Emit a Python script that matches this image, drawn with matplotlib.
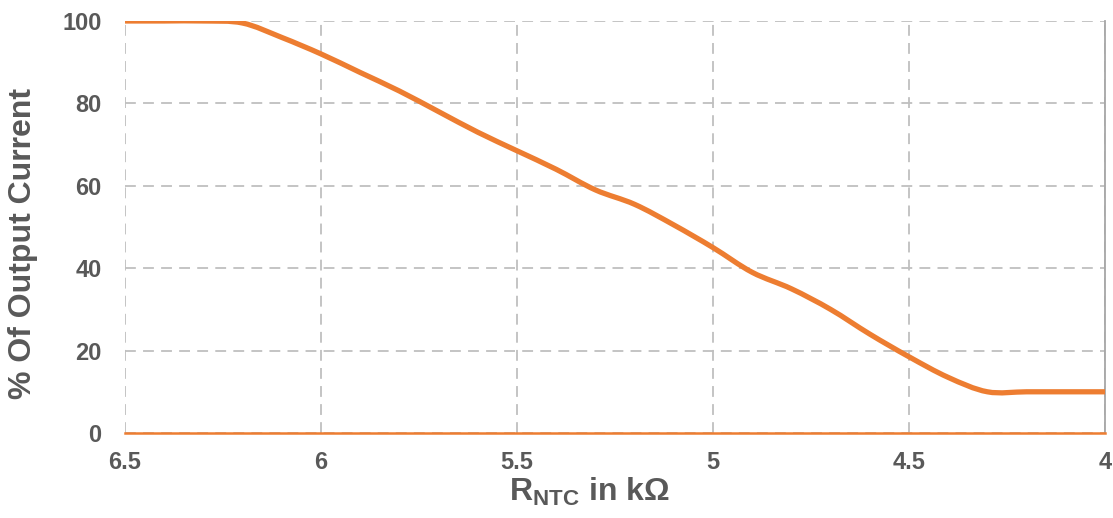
import matplotlib
matplotlib.use("Agg")
import matplotlib.pyplot as plt
from matplotlib.path import Path
from matplotlib.patches import PathPatch

plt.rcParams['font.family'] = ['Liberation Sans', 'DejaVu Sans']
plt.rcParams['mathtext.fontset'] = 'custom'
plt.rcParams['mathtext.rm'] = 'Liberation Sans'
plt.rcParams['mathtext.bf'] = 'Liberation Sans:bold'

# 読み取った値 (R_NTC [kΩ], 出力電流 [%])
r_ntc = [6.5, 6.4, 6.3, 6.2, 6.1, 6.0, 5.9, 5.8, 5.7, 5.6, 5.5, 5.4, 5.3,
         5.2, 5.1, 5.0, 4.9, 4.8, 4.7, 4.6, 4.5, 4.4, 4.3, 4.2, 4.1, 4.0]
output_pct = [100, 100, 100, 99.5, 96, 92, 87.5, 83, 78, 73, 68.5, 64, 59,
              55.5, 50.5, 45, 39, 35, 30, 24, 18.5, 13.5, 10, 10, 10, 10]

x_ticks = [6.5, 6, 5.5, 5, 4.5, 4]
x_labels = ['6.5', '6', '5.5', '5', '4.5', '4']
y_ticks = [0, 20, 40, 60, 80, 100]

text_col = '#595959'
grid_col = '#BFBFBF'
orange = '#ED7D31'


def smooth_path(xs, ys, t=1 / 6):
    """Excel風の平滑線 (Catmull-Rom → ベジェ)"""
    pts = list(zip(xs, ys))
    verts = [pts[0]]
    codes = [Path.MOVETO]
    n = len(pts)
    for i in range(n - 1):
        p0 = pts[i - 1] if i > 0 else pts[i]
        p1 = pts[i]
        p2 = pts[i + 1]
        p3 = pts[i + 2] if i + 2 < n else pts[i + 1]
        c1 = (p1[0] + (p2[0] - p0[0]) * t, p1[1] + (p2[1] - p0[1]) * t)
        c2 = (p2[0] - (p3[0] - p1[0]) * t, p2[1] - (p3[1] - p1[1]) * t)
        verts += [c1, c2, p2]
        codes += [Path.CURVE4] * 3
    return Path(verts, codes)


fig = plt.figure(figsize=(11.13, 5.18), dpi=100)
ax = fig.add_axes([0.1123, 0.1641, 0.8805, 0.7954])

ax.add_patch(PathPatch(smooth_path(r_ntc, output_pct), facecolor='none',
                       edgecolor=orange, lw=3.8, joinstyle='round',
                       capstyle='butt', zorder=3))

ax.set_xlim(6.5, 4.0)
ax.set_ylim(0, 100)
ax.set_xticks(x_ticks)
ax.set_xticklabels(x_labels)
ax.set_yticks(y_ticks)

ax.grid(True, color=grid_col, lw=1.3, linestyle=(0, (6, 4)))
ax.set_axisbelow(True)

for s in ['top', 'left']:
    ax.spines[s].set_visible(False)
ax.spines['right'].set_color('#A6A6A6')
ax.spines['right'].set_linewidth(1.3)
ax.spines['bottom'].set_color(orange)
ax.spines['bottom'].set_linewidth(1.8)
ax.spines['bottom'].set_zorder(4)

ax.tick_params(axis='both', length=0, labelsize=17, labelcolor=text_col)
ax.tick_params(axis='y', pad=17)
ax.tick_params(axis='x', pad=13)
for lab in ax.get_xticklabels() + ax.get_yticklabels():
    lab.set_fontweight('bold')

ax.set_ylabel('% Of Output Current', fontsize=23, fontweight='bold',
              color=text_col)
ax.yaxis.set_label_coords(-0.089, 0.461)
ax.set_xlabel(r'$\mathbf{R_{NTC}}$ in kΩ', fontsize=23, fontweight='bold',
              color=text_col)
ax.xaxis.set_label_coords(0.474, -0.105)

fig.savefig('out.png', dpi=100)
